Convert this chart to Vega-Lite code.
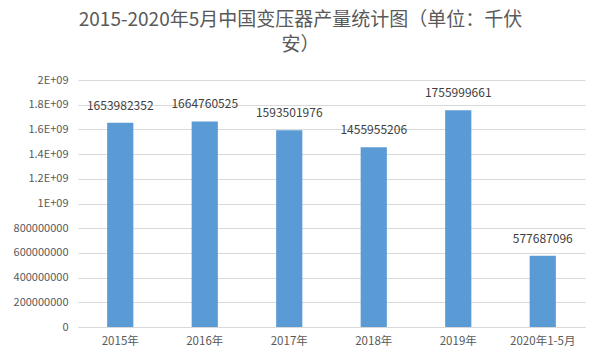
{
  "$schema": "https://vega.github.io/schema/vega-lite/v6.json",
  "width": 507,
  "height": 247,
  "autosize": "none",
  "padding": {"left": 78, "top": 80, "right": 15, "bottom": 37},
  "background": "white",
  "title": {
    "text": ["2015-2020年5月中国变压器产量统计图（单位：千伏", "安）"],
    "anchor": "middle",
    "frame": "group",
    "dx": -31,
    "offset": 19,
    "font": "Noto Sans CJK SC",
    "fontSize": 19,
    "fontWeight": "normal",
    "color": "#595959",
    "lineHeight": 25
  },
  "data": {
    "values": [
      {"year": "2015年", "value": 1653982352},
      {"year": "2016年", "value": 1664760525},
      {"year": "2017年", "value": 1593501976},
      {"year": "2018年", "value": 1455955206},
      {"year": "2019年", "value": 1755999661},
      {"year": "2020年1-5月", "value": 577687096}
    ]
  },
  "encoding": {
    "x": {
      "field": "year",
      "type": "nominal",
      "sort": null,
      "title": null,
      "scale": {"paddingInner": 0.69, "paddingOuter": 0.345},
      "axis": {
        "labelAngle": 0,
        "ticks": false,
        "domainColor": "#d9d9d9",
        "labelColor": "#595959",
        "labelFont": "Noto Sans CJK SC",
        "labelFontSize": 11.5,
        "labelPadding": 8
      }
    },
    "y": {
      "field": "value",
      "type": "quantitative",
      "title": null,
      "scale": {"domain": [0, 2000000000]},
      "axis": {
        "values": [0, 200000000, 400000000, 600000000, 800000000, 1000000000, 1200000000, 1400000000, 1600000000, 1800000000, 2000000000],
        "labelExpr": "datum.value >= 1000000000 ? (datum.value / 1000000000) + 'E+09' : format(datum.value, 'd')",
        "domain": false,
        "ticks": false,
        "gridColor": "#d9d9d9",
        "labelColor": "#595959",
        "labelFont": "Noto Sans CJK SC",
        "labelFontSize": 11,
        "labelPadding": 10
      }
    }
  },
  "layer": [
    {"mark": {"type": "bar", "color": "#5b9bd5"}},
    {
      "mark": {"type": "text", "dy": -17, "font": "Noto Sans CJK SC", "fontSize": 12, "color": "#404040"},
      "encoding": {"text": {"field": "value", "type": "quantitative", "format": "d"}}
    }
  ],
  "config": {"view": {"stroke": null}}
}
